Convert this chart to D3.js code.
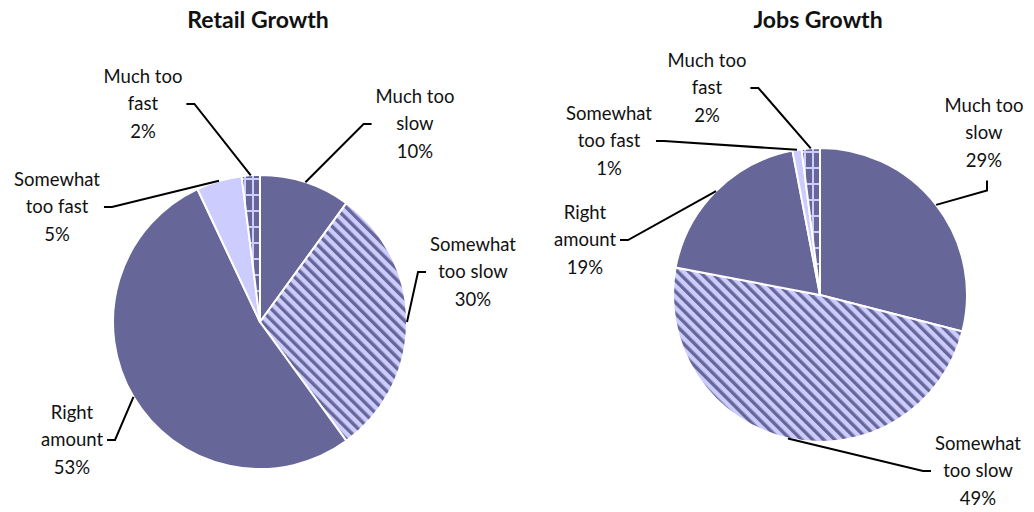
<!DOCTYPE html>
<html>
<head>
<meta charset="utf-8">
<script src="https://cdn.jsdelivr.net/npm/d3@7"></script>
<style>
  body { margin: 0; background: #fff; }
  svg { display: block; }
  text { font-family: Lato, "Open Sans", sans-serif; fill: #111; }
</style>
</head>
<body>
<svg id="chart" width="1034" height="512"></svg>
<script>
// MARK: Data.

const categories   = ['Much too slow', 'Somewhat too slow', 'Right amount', 'Somewhat too fast', 'Much too fast']
const labelLines   = [['Much too', 'slow'], ['Somewhat', 'too slow'], ['Right', 'amount'], ['Somewhat', 'too fast'], ['Much too', 'fast']]
const titles       = ['Retail Growth', 'Jobs Growth']
const retailValues = [10, 30, 53, 5, 2]
const jobsValues   = [29, 49, 19, 1, 2]

// MARK: Layout and styles.

const DARK   = '#666699'
const LIGHT  = '#ccccff'
const RADIUS = 147
const LINE_H = 27.5
const fills  = ['url(#solid)', 'url(#stripes)', 'url(#solid)', 'url(#light)', 'url(#grid)']

// label centre (middle line) relative to the pie centre, and which side the connector attaches to
const charts = [
  { title: titles[0], values: retailValues, cx: 260, cy: 322,
    labels: [[155, -198, 'left'], [213, -50, 'left'], [-188, 118, 'right'], [-203, -115, 'right'], [-117, -218, 'right']] },
  { title: titles[1], values: jobsValues, cx: 820, cy: 295,
    labels: [[164, -162, 'bottom'], [158, 176, 'left'], [-235, -55, 'right'], [-211, -154, 'right'], [-113, -207, 'right']] },
]

const svg  = d3.select('#chart')
const defs = svg.append('defs')

defs.append('pattern').attr('id', 'solid')
  .attr('patternUnits', 'userSpaceOnUse').attr('width', 10).attr('height', 10)
  .append('rect').attr('width', 10).attr('height', 10).attr('fill', DARK)

defs.append('pattern').attr('id', 'light')
  .attr('patternUnits', 'userSpaceOnUse').attr('width', 10).attr('height', 10)
  .append('rect').attr('width', 10).attr('height', 10).attr('fill', LIGHT)

const stripes = defs.append('pattern').attr('id', 'stripes')
  .attr('patternUnits', 'userSpaceOnUse').attr('width', 7.8).attr('height', 7.8)
  .attr('patternTransform', 'rotate(-45)')
stripes.append('rect').attr('width', 7.8).attr('height', 7.8).attr('fill', LIGHT)
stripes.append('rect').attr('width', 3.4).attr('height', 7.8).attr('fill', DARK)

const grid = defs.append('pattern').attr('id', 'grid')
  .attr('patternUnits', 'userSpaceOnUse').attr('width', 8).attr('height', 16)
grid.append('rect').attr('width', 8).attr('height', 16).attr('fill', DARK)
grid.append('rect').attr('width', 8).attr('height', 2).attr('fill', LIGHT)
grid.append('rect').attr('width', 2).attr('height', 16).attr('fill', LIGHT)

// MARK: Draw the pies.

const pie = d3.pie().sort(null).value((d) => d)
const arc = d3.arc().innerRadius(0).outerRadius(RADIUS)

charts.forEach((chart) => {
  const g = svg.append('g').attr('transform', `translate(${chart.cx},${chart.cy})`)

  svg.append('text')
    .attr('x', chart.cx - 2)
    .attr('y', 28)
    .attr('text-anchor', 'middle')
    .attr('font-size', 23)
    .attr('font-weight', 'bold')
    .text(chart.title)

  const arcs = pie(chart.values)

  g.selectAll('path.slice')
    .data(arcs).enter()
    .append('path')
    .attr('class', 'slice')
    .attr('d', arc)
    .attr('fill', (d, i) => fills[i])
    .attr('stroke', '#fff')
    .attr('stroke-width', 2)
    .attr('stroke-linejoin', 'round')

  arcs.forEach((d, i) => {
    const [lx, ly, side] = chart.labels[i]
    const lines = labelLines[i].concat([`${chart.values[i]}%`])

    const label = g.append('g').attr('class', 'label')
    const texts = label.selectAll('text')
      .data(lines).enter()
      .append('text')
      .attr('x', lx)
      .attr('y', (t, k) => ly + (k - 1) * LINE_H)
      .attr('dy', '0.35em')
      .attr('text-anchor', 'middle')
      .attr('font-size', 18.5)
      .text((t) => t)

    const width = d3.max(texts.nodes(), (n) => n.getComputedTextLength())

    // connector: from the slice edge at its mid angle, to an elbow, then into the label
    const mid = (d.startAngle + d.endAngle) / 2
    const start = [RADIUS * Math.sin(mid), -RADIUS * Math.cos(mid)]
    let end, elbow
    if (side === 'left') {
      end   = [lx - width / 2 - 4, ly]
      elbow = [end[0] - 8, ly]
    } else if (side === 'right') {
      end   = [lx + width / 2 + 4, ly]
      elbow = [end[0] + 8, ly]
    } else {
      end   = [lx + 3, ly + LINE_H + 20]
      elbow = [lx + 3, end[1] + 10]
    }

    g.append('path')
      .attr('d', d3.line()([start, elbow, end]))
      .attr('fill', 'none')
      .attr('stroke', '#000')
      .attr('stroke-width', 2)
  })
})
</script>
</body>
</html>
